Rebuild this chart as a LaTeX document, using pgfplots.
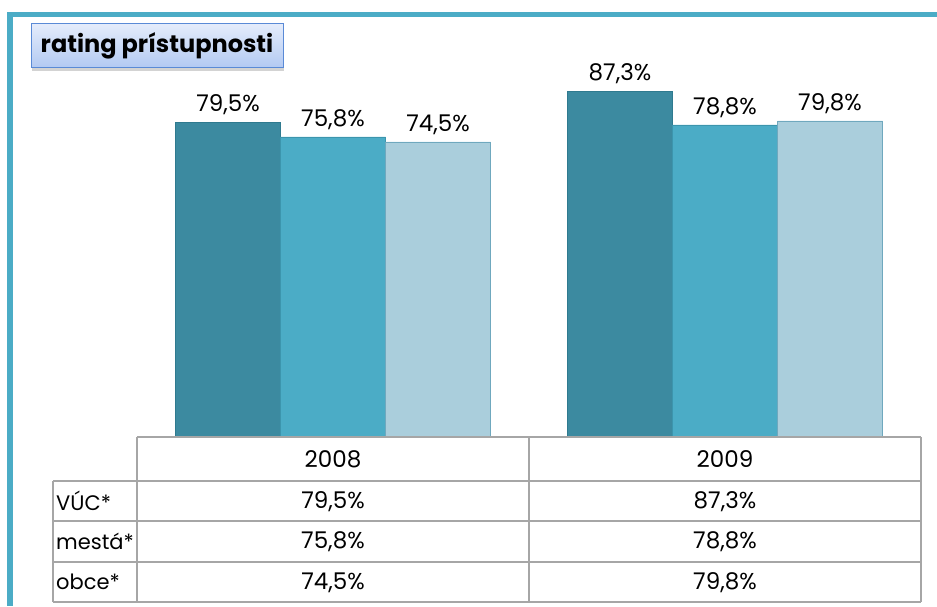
\documentclass[border=0pt]{standalone}
\usepackage{pgfplots}
\pgfplotsset{compat=1.18}
\usepackage{fontspec}
\setmainfont{Poppins}
\usetikzlibrary{shadows}

\definecolor{frameteal}{RGB}{75,172,198}
\definecolor{barA}{RGB}{60,138,160}
\definecolor{barAline}{RGB}{47,122,143}
\definecolor{barB}{RGB}{75,172,198}
\definecolor{barBline}{RGB}{60,149,173}
\definecolor{barC}{RGB}{170,206,220}
\definecolor{barCline}{RGB}{111,168,190}
\definecolor{gridgrey}{RGB}{166,166,166}
\definecolor{titletop}{RGB}{228,236,251}
\definecolor{titlebot}{RGB}{178,201,242}
\definecolor{titleline}{RGB}{90,138,214}

\pgfplotstableread{
x  vuc   mesta obce
0  79.5  75.8  74.5
1  87.3  78.8  79.8
}\ratingdata

\begin{document}
\begin{tikzpicture}[x=1pt,y=1pt]
\path[use as bounding box] (0,0) rectangle (937,606);
% teal frame
\fill[frameteal] (7,0) rectangle (13,594);
\fill[frameteal] (7,589) rectangle (937,594);

\begin{axis}[
    at={(137pt,169pt)}, anchor=south west,
    width=784pt, height=396pt, scale only axis,
    xmin=-0.5, xmax=1.5, ymin=0, ymax=100,
    hide axis, clip=false,
    ybar=0pt, bar width=105pt,
    nodes near coords={\pgfmathprintnumber[fixed,fixed zerofill,precision=1,use comma,assume math mode=true]{\pgfplotspointmeta}\%},
    every node near coord/.append style={font=\fontsize{23}{25}\selectfont, anchor=south, yshift=4pt},
]
\addplot[fill=barA, draw=barAline] table[x=x,y=vuc] {\ratingdata};
\addplot[fill=barB, draw=barBline] table[x=x,y=mesta] {\ratingdata};
\addplot[fill=barC, draw=barCline] table[x=x,y=obce] {\ratingdata};
\end{axis}

% data table under the bars
\begin{scope}[draw=gridgrey, line width=1.3pt]
\draw (137,169) -- (921,169);
\draw (53,125) -- (921,125);
\draw (53,85) -- (921,85);
\draw (53,44) -- (921,44);
\draw (53,4) -- (921,4);
\draw (53,125) -- (53,4);
\draw (137,169) -- (137,4);
\draw (529,169) -- (529,4);
\draw (921,169) -- (921,4);
\end{scope}
\begin{scope}[every node/.style={font=\fontsize{23}{25}\selectfont, inner sep=0pt}]
\node at (333,147) {2008};
\node at (725,147) {2009};
\node[anchor=west,font=\fontsize{21}{23}\selectfont\mdseries] at (56,105) {VÚC*};
\node[anchor=west,font=\fontsize{21}{23}\selectfont] at (56,65) {mestá*};
\node[anchor=west,font=\fontsize{21}{23}\selectfont] at (56,24) {obce*};
\node at (333,104) {79,5\%};
\node at (725,104) {87,3\%};
\node at (333,64) {75,8\%};
\node at (725,64) {78,8\%};
\node at (333,23) {74,5\%};
\node at (725,23) {79,8\%};
\end{scope}

% title box
\path[top color=titletop, bottom color=titlebot, draw=titleline, line width=1pt,
  drop shadow={shadow xshift=1pt, shadow yshift=-3pt, opacity=0.35}]
  (31,538) rectangle (283,582);
\node[font=\fontsize{24}{26}\selectfont\bfseries] at (157,560) {rating prístupnosti};
\end{tikzpicture}
\end{document}
